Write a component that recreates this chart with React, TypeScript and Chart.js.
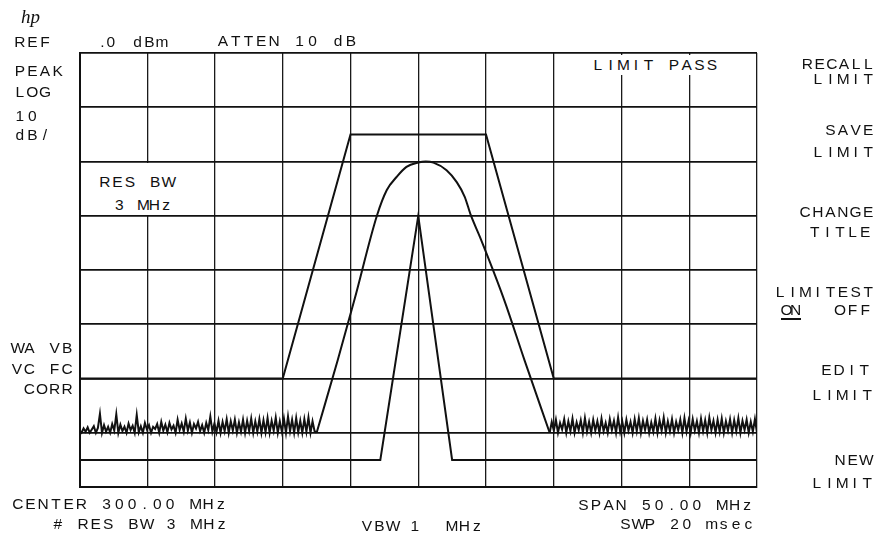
import React, { useEffect, useRef } from "react";
import { Chart, registerables } from "chart.js";

Chart.register(...registerables);

// ---- axis definition (spectrum analyzer: center 300 MHz, span 50 MHz, ref 0 dBm, 10 dB/div)
const FREQ_START = 275;
const FREQ_STOP = 325;
const FREQ_STEP = 5;
const LEVEL_TOP = 0;
const LEVEL_BOTTOM = -80;
const LEVEL_STEP = 10;

// ---- noise floor samples (dBm), left of the signal
const noiseLeftRange = [275, 292.5];
const noiseLeft = [
  -69.6, -70, -69.2, -69.8, -69.0, -70, -69.4, -68.8, -70, -69.1,
  -66.5, -70, -68.6, -69.8, -68.9, -70, -68.4, -69.6, -66.6, -70,
  -68.5, -69.7, -68.9, -70, -68.3, -69.5, -68.7, -70, -66.7, -69.9,
  -68.8, -70, -68.2, -69.4, -68.6, -70, -68.9, -69.3, -68.4, -70,
  -68.0, -69.6, -68.5, -69.9, -68.2, -69.4, -68.7, -70, -67.6, -69.5,
  -68.3, -69.8, -67.4, -69.6, -68.1, -70, -68.4, -69.2, -68.0, -69.7,
  -68.6, -70, -68.2, -69.5, -67.0, -69.8, -68.3, -69.9, -67.8, -70,
  -68.0, -69.7, -67.5, -70, -67.9, -69.6, -67.6, -70, -68.1, -69.8,
  -67.6, -70, -67.8, -69.7, -67.4, -70, -67.9, -69.8, -67.5, -70,
  -67.7, -69.9, -67.3, -70, -67.8, -69.6, -67.2, -70, -67.9, -69.8,
  -67.4, -70, -67.0, -69.7, -67.6, -70, -67.3, -69.9, -67.8, -70,
  -67.5, -69.8, -67.2, -70, -67.9, -69.7, -70,
];

// ---- noise floor samples (dBm), right of the signal
const noiseRightRange = [309.7, 325];
const noiseRight = [
  -70, -68.0, -69.6, -67.6, -70, -68.2, -69.4, -67.5, -70, -67.9,
  -69.7, -67.4, -70, -68.1, -69.5, -67.7, -70, -67.3, -69.8, -68.0,
  -70, -67.6, -69.6, -67.9, -70, -67.4, -69.7, -68.2, -70, -67.5,
  -69.5, -67.8, -70, -67.2, -69.8, -67.9, -70, -67.6, -69.6, -68.0,
  -70, -67.5, -69.7, -67.3, -70, -67.8, -69.5, -67.6, -70, -68.1,
  -69.8, -67.4, -70, -67.7, -69.6, -67.2, -70, -67.9, -69.7, -67.5,
  -70, -68.0, -69.5, -67.6, -70, -67.3, -69.8, -67.8, -70, -67.5,
  -69.6, -67.9, -70, -67.4, -69.7, -67.7, -70, -67.2, -69.5, -67.8,
  -70, -67.6, -69.8, -67.4, -70, -67.9, -69.6, -67.5, -70, -67.7,
  -69.7, -67.3, -70, -67.8, -69.5, -67.6, -70, -68.0, -69.8, -67.5, -70,
];

// ---- signal response (MHz, dBm)
const signalFreqs = [
  292.5, 294.06, 295.29, 296.96, 297.68, 298.4, 299.13, 300.0, 300.55,
  301.12, 302.09, 302.84, 303.43, 303.88, 304.55, 306.34, 307.84, 309.7,
];
const signalLevels = [
  -70, -56.6, -45.5, -29.9, -25.25, -22.86, -21.0, -20.2, -20.0,
  -20.2, -21.6, -23.8, -26.5, -29.9, -33.9, -45.5, -56.6, -70,
];

// ---- limit lines (MHz, dBm)
const upperLimitFreqs = [275, 290, 295, 305, 310, 325];
const upperLimitLevels = [-60, -60, -15, -15, -60, -60];
const lowerLimitFreqs = [275, 297.2, 300, 302.5, 325];
const lowerLimitLevels = [-75, -75, -30, -75, -75];

const INK = "#111";

function spread(range: number[], vals: number[]) {
  const step = (range[1] - range[0]) / (vals.length - 1);
  return vals.map((v, i) => ({ x: range[0] + i * step, y: v }));
}
function pair(xs: number[], ys: number[]) {
  return xs.map((x, i) => ({ x, y: ys[i] }));
}

const FONT = 15.5;
const PITCH = 12.6;

type TxtProps = { x: number; b: number; s: string; p?: number; right?: boolean; size?: number };

function Txt({ x, b, s, p = PITCH, right = false, size = FONT }: TxtProps) {
  const chars = Array.from(s);
  const w = chars.length * p;
  const left = right ? x + 1.5 - w : x - 1.5;
  const top = b - 0.8465 * size;
  return (
    <div
      style={{
        position: "absolute",
        left,
        top,
        whiteSpace: "nowrap",
        fontFamily: "'Liberation Sans', Arial, sans-serif",
        fontSize: size,
        lineHeight: `${size}px`,
        color: INK,
      }}
    >
      {chars.map((c, i) => (
        <span key={i} style={{ display: "inline-block", width: p, textAlign: "center" }}>
          {c === " " ? "\u00a0" : c}
        </span>
      ))}
    </div>
  );
}

export default function App() {
  const ref = useRef<HTMLCanvasElement | null>(null);

  useEffect(() => {
    if (!ref.current) return;
    const line = { borderColor: INK, borderWidth: 2, pointRadius: 0, fill: false, tension: 0 };
    const chart = new Chart(ref.current, {
      type: "line",
      data: {
        datasets: [
          { ...line, data: pair(upperLimitFreqs, upperLimitLevels) },
          { ...line, data: pair(lowerLimitFreqs, lowerLimitLevels) },
          { ...line, borderWidth: 2, data: spread(noiseLeftRange, noiseLeft) },
          { ...line, cubicInterpolationMode: "monotone", data: pair(signalFreqs, signalLevels) },
          { ...line, borderWidth: 2, data: spread(noiseRightRange, noiseRight) },
        ] as any,
      },
      options: {
        animation: false,
        responsive: false,
        maintainAspectRatio: false,
        layout: { padding: { left: 79.5, top: 53, right: 120, bottom: 51 } },
        plugins: { legend: { display: false }, tooltip: { enabled: false } },
        scales: {
          x: {
            type: "linear",
            min: FREQ_START,
            max: FREQ_STOP,
            ticks: { display: false, stepSize: FREQ_STEP },
            grid: { color: "#1a1a1a", lineWidth: 1.3, drawTicks: false },
            border: { display: true, color: INK, width: 2 },
          },
          y: {
            type: "linear",
            min: LEVEL_BOTTOM,
            max: LEVEL_TOP,
            ticks: { display: false, stepSize: LEVEL_STEP },
            grid: { color: INK, lineWidth: 1.8, drawTicks: false },
            border: { display: true, color: INK, width: 2 },
          },
        },
      },
    });
    return () => chart.destroy();
  }, []);

  return (
    <div
      style={{
        position: "fixed",
        left: 0,
        top: 0,
        width: 877,
        height: 538,
        background: "#fff",
        overflow: "hidden",
      }}
    >
      <canvas ref={ref} width={877} height={538} style={{ position: "absolute", left: 0, top: 0 }} />

      {/* blanked grid areas behind annotations */}
      <div style={{ position: "absolute", left: 81.5, top: 163, width: 132, height: 51.5, background: "#fff" }} />
      <div style={{ position: "absolute", left: 555.5, top: 54.5, width: 200, height: 20.5, background: "#fff" }} />

      <div
        style={{
          position: "absolute",
          left: 21,
          top: 6,
          fontFamily: "'Liberation Serif', serif",
          fontStyle: "italic",
          fontSize: 19,
          color: INK,
        }}
      >
        hp
      </div>

      <Txt x={15} b={47} s="REF" />
      <Txt x={100} b={47} s=".0" p={8} />
      <Txt x={133} b={47} s="dBm" p={12} />
      <Txt x={218} b={46} s="ATTEN 10 dB" p={12.8} />

      <Txt x={15} b={76} s="PEAK" />
      <Txt x={15} b={97} s="LOG" />
      <Txt x={15} b={121} s="10" />
      <Txt x={15} b={140} s="dB/" />

      <Txt x={100} b={187} s="RES BW" />
      <Txt x={115} b={210} s="3 MHz" p={11.7} />

      <Txt x={593} b={70} s="LIMIT PASS" p={12.7} />

      <Txt x={72} b={353} s="WA VB" right />
      <Txt x={72} b={374} s="VC FC" right />
      <Txt x={72} b={394} s="CORR" right />

      <Txt x={13} b={509} s="CENTER 300.00 MHz" p={12.7} />
      <Txt x={53} b={529} s="# RES BW 3 MHz" />
      <Txt x={362} b={531} s="VBW" />
      <Txt x={410} b={531} s="1" />
      <Txt x={447} b={531} s="MHz" />
      <Txt x={752} b={510} s="SPAN 50.00 MHz" right />
      <Txt x={753} b={529} s="SWP 20 msec" p={12.3} right />

      <Txt x={873} b={69} s="RECALL" p={12.2} right />
      <Txt x={873} b={84} s="LIMIT" right />
      <Txt x={873} b={135} s="SAVE" right />
      <Txt x={873} b={157} s="LIMIT" right />
      <Txt x={873} b={217} s="CHANGE" right />
      <Txt x={870} b={237} s="TITLE" right />
      <Txt x={873} b={297} s="LIMITEST" right />
      <Txt x={782} b={315} s="ON" p={9.5} />
      <div style={{ position: "absolute", left: 781, top: 318, width: 20, height: 1.5, background: INK }} />
      <Txt x={870} b={315} s="OFF" right />
      <Txt x={869} b={375} s="EDIT" right />
      <Txt x={872} b={400} s="LIMIT" right />
      <Txt x={870} b={465} s="NEW" right />
      <Txt x={872} b={488} s="LIMIT" right />
    </div>
  );
}
